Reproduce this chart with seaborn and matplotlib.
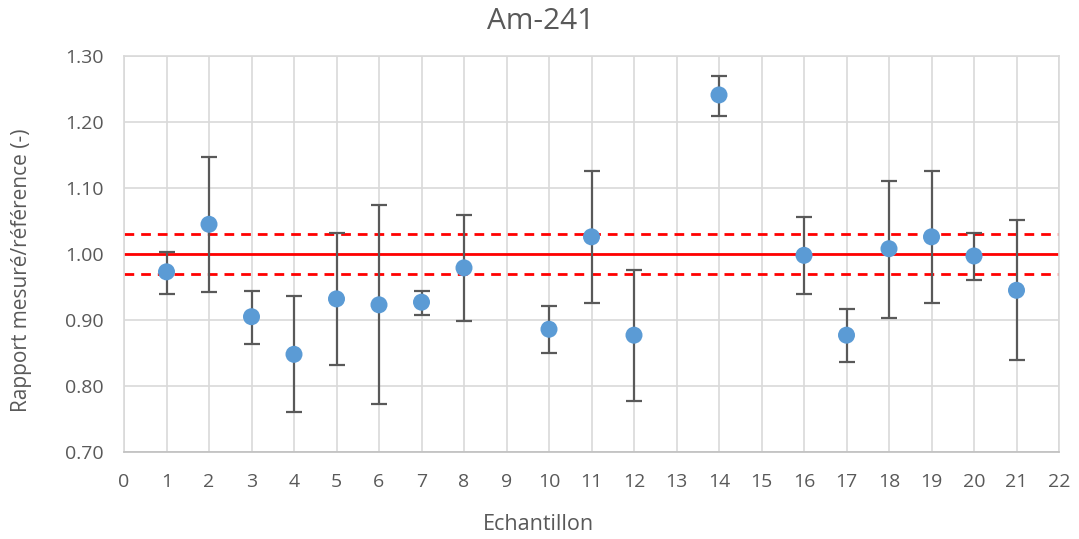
import matplotlib
matplotlib.use("Agg")
import matplotlib.pyplot as plt
import seaborn as sns
import pandas as pd
import numpy as np

echantillon = [1, 2, 3, 4, 5, 6, 7, 8, 10, 11, 12, 14, 16, 17, 18, 19, 20, 21]
rapport = [0.973, 1.045, 0.905, 0.848, 0.932, 0.923, 0.927, 0.979, 0.886, 1.026,
           0.877, 1.241, 0.998, 0.877, 1.008, 1.026, 0.997, 0.945]
err_haut = [1.003, 1.147, 0.944, 0.936, 1.032, 1.074, 0.944, 1.059, 0.921, 1.126,
            0.976, 1.270, 1.056, 0.917, 1.111, 1.126, 1.032, 1.052]
err_bas = [0.940, 0.942, 0.864, 0.760, 0.832, 0.773, 0.908, 0.898, 0.850, 0.926,
           0.777, 1.209, 0.940, 0.836, 0.903, 0.926, 0.961, 0.840]
reference = 1.00
limite_haute = 1.03
limite_basse = 0.97

df = pd.DataFrame({"Echantillon": echantillon, "Rapport": rapport,
                   "haut": err_haut, "bas": err_bas})

sns.set_theme(style="white")
plt.rcParams["font.family"] = ["Open Sans", "DejaVu Sans"]

fig = plt.figure(figsize=(10.79, 5.39), dpi=100)
ax = fig.add_axes([124/1079, 1 - 452/539, (1059-124)/1079, (452-56)/539])

ax.axhline(reference, color="#ff0000", lw=2, zorder=2)
ax.axhline(limite_haute, color="#ff0000", lw=2, ls=(0, (3.5, 2.5)), zorder=2)
ax.axhline(limite_basse, color="#ff0000", lw=2, ls=(0, (3.5, 2.5)), zorder=2)

yerr = np.array([df["Rapport"] - df["bas"], df["haut"] - df["Rapport"]])
ax.errorbar(df["Echantillon"], df["Rapport"], yerr=yerr, fmt="none",
            ecolor="#595959", elinewidth=1.6, capsize=5.5, capthick=1.6, zorder=3)
sns.scatterplot(data=df, x="Echantillon", y="Rapport", ax=ax, s=150,
                color="#5b9bd5", edgecolor="none", zorder=4)

ax.set_xlim(0, 22)
ax.set_ylim(0.70, 1.30)
ax.set_xticks(range(0, 23))
ax.set_yticks(np.arange(0.70, 1.301, 0.10))
ax.set_yticklabels([f"{v:.2f}" for v in np.arange(0.70, 1.301, 0.10)])
ax.grid(True, color="#d9d9d9", lw=1.2)
ax.set_axisbelow(True)
for s in ax.spines.values():
    s.set_color("#d9d9d9")
    s.set_linewidth(1.2)
ax.spines["bottom"].set_color("#bfbfbf")
ax.tick_params(axis="both", length=0, labelsize=14, colors="#595959")
ax.tick_params(axis="y", pad=14.4)
ax.tick_params(axis="x", pad=15)

ax.set_xlabel("Echantillon", fontsize=15.5, color="#595959", va="center")
ax.set_ylabel("Rapport mesuré/référence (-)", fontsize=15, color="#595959")
ax.xaxis.set_label_coords((538-124)/935, -(524-452)/396)
ax.yaxis.set_label_coords(-(124-32)/935, (452-270)/396)
ax.set_title("Am-241", fontsize=21.5, color="#595959", x=(541-124)/935,
             y=1 + (56-22)/396, va="center", pad=0)

fig.savefig("out.png", dpi=100)
